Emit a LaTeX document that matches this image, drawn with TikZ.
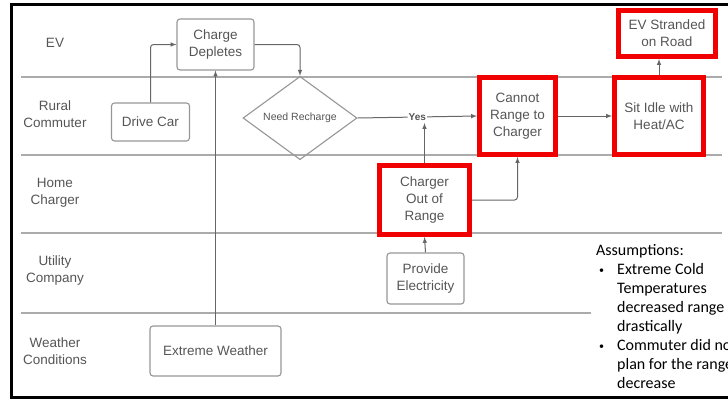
\documentclass[tikz,border=0pt]{standalone}
\usepackage{fontspec}
\setmainfont{Liberation Sans}
\newfontfamily\notefont{Carlito}
\usetikzlibrary{arrows,shapes.geometric,positioning}
\definecolor{textgray}{RGB}{85,85,85}
\definecolor{linegray}{RGB}{150,150,150}
\definecolor{alertred}{RGB}{240,0,0}
\tikzset{
  proc/.style={draw=linegray,rounded corners=3pt,line width=1.1pt,align=center,
    text=textgray,inner sep=1pt,font=\fontsize{13.5}{17}\selectfont},
  alert/.style={draw=alertred,line width=5pt,align=center,
    text=textgray,inner sep=1pt,font=\fontsize{13.5}{17}\selectfont},
  lanename/.style={align=center,text=textgray,font=\fontsize{13.5}{17}\selectfont},
  lane/.style={draw=linegray!80,line width=1.3pt},
  link/.style={draw=black!60,line width=1pt,->,rounded corners=3pt},
}
\newcommand{\notebullet}{\makebox[21pt][l]{\hspace{3pt}\raisebox{1pt}{\fontsize{10}{10}\selectfont\textbullet}}}

\begin{document}
\begin{tikzpicture}[x=1pt,y=-1pt,>=latex]
  \useasboundingbox (0,0) rectangle (728,400);
  \clip (0,0) rectangle (728,400);
  \draw [line width=3pt] (11,4) rectangle (745,397);

  % swim lanes
  \draw [lane] (21,77)--(722,77);
  \draw [lane] (21,155)--(722,155);
  \draw [lane] (21,233)--(722,233);
  \draw [lane] (21,313)--(591,313);
  \node [lanename] (evlane) at (55,43) {EV};
  \node [lanename] (rurallane) at (55,114) {Rural\\Commuter};
  \node [lanename] (homelane) at (55,193) {Home\\Charger};
  \node [lanename] (utillane) at (55,271) {Utility\\Company};
  \node [lanename] (weatherlane) at (55,351) {Weather\\Conditions};

  % steps
  \node [proc,minimum width=77pt,minimum height=51pt] (chg) at (215.5,44.5) {Charge\\Depletes};
  \node [proc,minimum width=78pt,minimum height=38pt] (drive) at (150.5,122) {Drive Car};
  \node [diamond,draw=linegray,line width=1.1pt,text=textgray,inner sep=0pt,
         minimum width=114pt,minimum height=70pt,font=\fontsize{10.5}{12}\selectfont]
         (need) at (300,118) {Need Recharge};
  \node [alert,minimum width=76pt,minimum height=77pt] (cannot) at (517.5,116) {Cannot\\Range to\\Charger};
  \node [alert,minimum width=89pt,minimum height=77pt] (sit) at (659,116) {Sit Idle with\\Heat/AC};
  \node [alert,minimum width=97pt,minimum height=46pt] (stranded) at (667,33.5) {EV Stranded\\on Road};
  \node [alert,minimum width=90pt,minimum height=69pt] (outrange) at (424.5,200) {Charger\\Out of\\Range};
  \node [proc,minimum width=77pt,minimum height=51pt] (elec) at (425.5,278.5) {Provide\\Electricity};
  \node [proc,minimum width=131pt,minimum height=50pt] (weather) at (215.5,351) {Extreme Weather};

  \draw [link] (drive.north) |- (chg.west);
  \draw [link] (weather.north) -- (chg.south);
  \draw [link] (chg.east) -| (need.north);
  \draw [link] (need.east) -- node [fill=white,inner sep=1pt,text=textgray,
        font=\bfseries\fontsize{10}{12}\selectfont] (yes) {Yes} (cannot.west);
  \coordinate (yesjoin) at (outrange.north |- need.east);
  \draw [link,shorten >=5pt] (outrange.north) -- (yesjoin);
  \draw [link] (outrange.east) -| (cannot.south);
  \draw [link] (cannot.east) -- (sit.west);
  \draw [link] (sit.north) -- (sit.north |- stranded.south);
  \draw [link] (elec.north) -- (outrange.south);

  \node [anchor=north west,align=left,inner sep=0pt,
         font=\notefont\fontsize{16}{19}\selectfont] (assume) at (596,244)
    {Assumptions:\\
     \notebullet Extreme Cold\\
     \hspace*{21pt}Temperatures\\
     \hspace*{21pt}decreased range\\
     \hspace*{21pt}drastically\\
     \notebullet Commuter did not\\
     \hspace*{21pt}plan for the range\\
     \hspace*{21pt}decrease};
\end{tikzpicture}
\end{document}
